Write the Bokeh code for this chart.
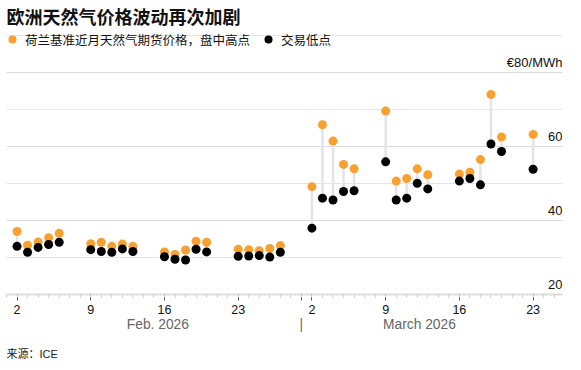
import pandas as pd
from bokeh.plotting import figure
from bokeh.models import (FixedTicker, LinearAxis, Legend, LegendItem, Title,
                          ColumnDataSource, Range1d, Grid)
from bokeh.core.properties import value
from bokeh.embed import file_html
from bokeh.resources import INLINE

# ---------------- data ----------------
dates = ["2026-02-02", "2026-02-03", "2026-02-04", "2026-02-05", "2026-02-06",
         "2026-02-09", "2026-02-10", "2026-02-11", "2026-02-12", "2026-02-13",
         "2026-02-16", "2026-02-17", "2026-02-18", "2026-02-19", "2026-02-20",
         "2026-02-23", "2026-02-24", "2026-02-25", "2026-02-26", "2026-02-27",
         "2026-03-02", "2026-03-03", "2026-03-04", "2026-03-05", "2026-03-06",
         "2026-03-09", "2026-03-10", "2026-03-11", "2026-03-12", "2026-03-13",
         "2026-03-16", "2026-03-17", "2026-03-18", "2026-03-19", "2026-03-20",
         "2026-03-23"]
highs = [37.0, 33.3, 34.2, 35.3, 36.5,
         33.7, 34.1, 33.0, 33.6, 33.0,
         31.5, 30.8, 32.0, 34.4, 34.1,
         32.2, 32.1, 31.8, 32.4, 33.2,
         49.1, 65.8, 61.4, 55.1, 53.9,
         69.5, 50.6, 51.3, 53.9, 52.3,
         52.5, 53.0, 56.4, 74.0, 62.5,
         63.2]
lows = [33.0, 31.4, 32.7, 33.5, 34.1,
        32.1, 31.6, 31.4, 32.3, 31.6,
        30.2, 29.5, 29.3, 32.2, 31.5,
        30.3, 30.4, 30.5, 30.1, 31.4,
        37.9, 46.0, 45.5, 47.8, 48.0,
        55.8, 45.5, 46.0, 50.0, 48.5,
        50.6, 51.3, 49.6, 60.6, 58.6,
        53.8]

day_tick_dates = ["2026-02-02", "2026-02-09", "2026-02-16", "2026-02-23", "2026-03-01",
                  "2026-03-02", "2026-03-09", "2026-03-16", "2026-03-23"]
day_tick_labels = ["2", "9", "16", "23", "", "2", "9", "16", "23"]
month_label_dates = ["2026-02-15 09:00", "2026-03-01", "2026-03-12 05:00"]
month_labels = ["Feb. 2026", "|", "March 2026"]
y_ticks = [20, 40, 60, 80]
y_tick_labels = ["20", "40", "60", "€80/MWh"]

title_text = "欧洲天然气价格波动再次加剧"
high_label = "荷兰基准近月天然气期货价格，盘中高点"
low_label = "交易低点"
source_text = "来源：ICE"

x_start = "2026-02-01"
x_end = "2026-03-25 19:00"
y_start, y_end = 20, 90.7

# ---------------- style ----------------
FONT = "'Liberation Sans', 'Noto Sans CJK SC', sans-serif"
ORANGE = "#f8a131"


def ms(s):
    return int(pd.Timestamp(s).value // 10**6)


src = ColumnDataSource(dict(x=pd.to_datetime(dates), high=highs, low=lows))

p = figure(x_axis_type="datetime",
           x_range=Range1d(pd.Timestamp(x_start), pd.Timestamp(x_end)),
           y_range=Range1d(y_start, y_end),
           y_axis_location=None,
           width=565, height=370,
           min_border_left=6, min_border_right=3,
           min_border_top=32, min_border_bottom=0,
           output_backend="svg", toolbar_location=None)
p.outline_line_color = None
p.xgrid.visible = False

p.add_layout(Grid(dimension=1, ticker=FixedTicker(ticks=y_ticks[1:]),
                  grid_line_color="#dadada", grid_line_width=1))

p.segment(x0="x", y0="high", x1="x", y1="low", source=src,
          line_color="#e3e3eb", line_width=2.5)
r_hi = p.scatter("x", "high", source=src, size=9, fill_color=ORANGE, line_color=None)
r_lo = p.scatter("x", "low", source=src, size=9, fill_color="black", line_color=None)

# y tick labels (inside, right-aligned, above gridlines)
p.text(x=[pd.Timestamp(x_end)] * len(y_ticks), y=y_ticks, text=y_tick_labels,
       text_align="right", text_baseline="middle", y_offset=-10,
       text_font=value(FONT), text_font_size="13px", text_color="#111111")

# main x axis
xa = p.xaxis[0]
xa.ticker = FixedTicker(ticks=[ms(d) for d in day_tick_dates],
                        minor_ticks=[ms(d) for d in pd.date_range(x_start, "2026-03-25")])
xa.major_label_overrides = {ms(d): l for d, l in zip(day_tick_dates, day_tick_labels)}
xa.axis_line_color = "#dedede"
xa.axis_line_width = 2
xa.major_tick_line_color = "#555555"
xa.major_tick_out = 6
xa.major_tick_in = 0
xa.minor_tick_line_color = "#cccccc"
xa.minor_tick_out = 3
xa.minor_tick_in = 0
xa.major_label_text_font = FONT
xa.major_label_text_font_size = "12.5px"
xa.major_label_text_color = "#111111"
xa.major_label_standoff = 4

# month axis
ma = LinearAxis(ticker=FixedTicker(ticks=[ms(d) for d in month_label_dates]),
                major_label_overrides={ms(d): l for d, l in zip(month_label_dates, month_labels)},
                axis_line_color=None, major_tick_line_color=None, minor_tick_line_color=None,
                major_label_text_font=FONT, major_label_text_font_size="13.8px",
                major_label_text_color="#666666", major_label_standoff=-6)
p.add_layout(ma, "below")

# source
p.add_layout(Title(text=source_text, align="left", offset=0, text_font=FONT,
                   text_font_size="11px", text_font_style="normal",
                   text_color="#222222", standoff=22), "below")

# legend (top-left of the frame)
legend = Legend(items=[LegendItem(label=high_label, renderers=[r_hi]),
                       LegendItem(label=low_label, renderers=[r_lo])],
                orientation="horizontal", location=(-4, 245),
                border_line_color=None, background_fill_alpha=0,
                padding=0, margin=0, spacing=8,
                glyph_width=20, glyph_height=20, label_height=20, label_standoff=3,
                label_text_font=FONT, label_text_font_size="12.5px",
                label_text_color="#111111")
p.add_layout(legend)

# title
p.title.text = title_text
p.title.text_font = FONT
p.title.text_font_size = "18px"
p.title.text_font_style = "bold"
p.title.text_color = "#111111"
p.title.align = "left"
p.title.offset = 0
p.title.standoff = 10

open("out.html", "w").write(file_html(p, INLINE))
